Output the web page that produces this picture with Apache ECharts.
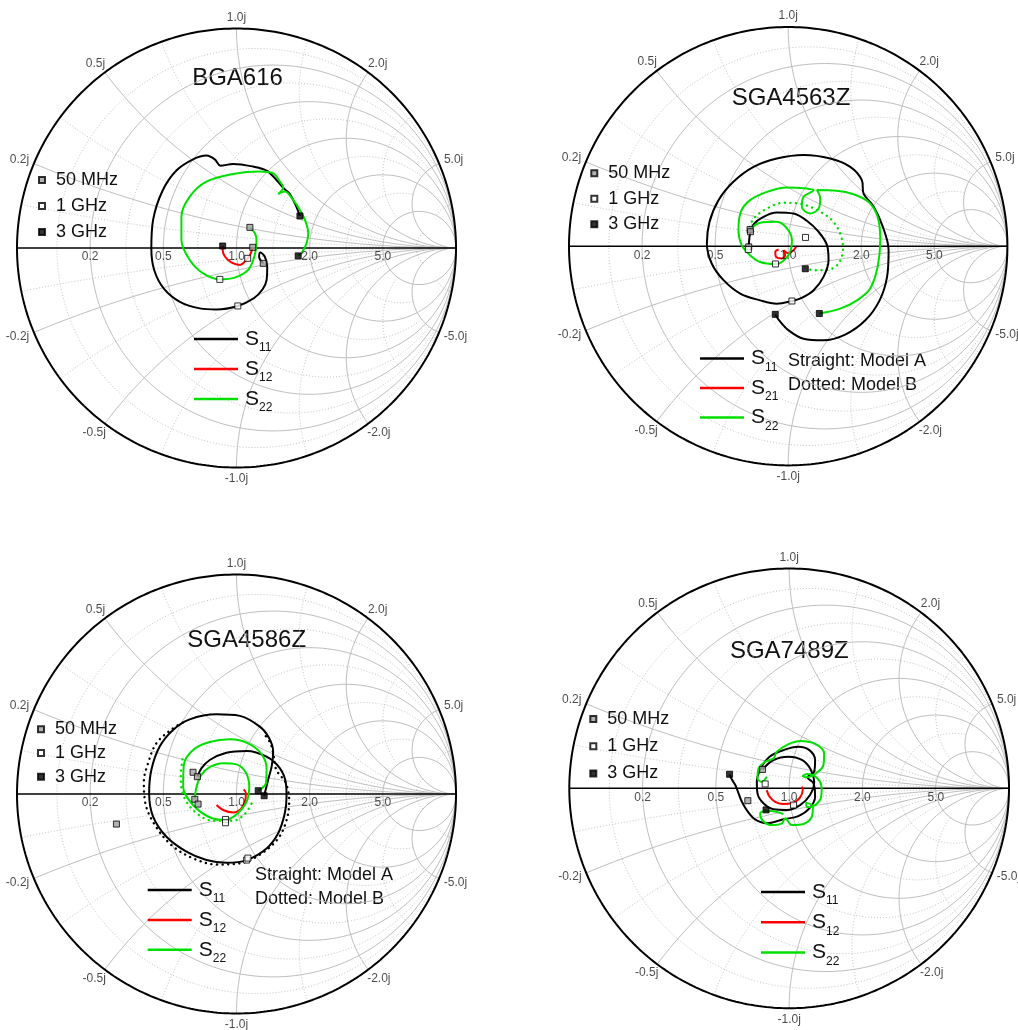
<!DOCTYPE html>
<html><head><meta charset="utf-8">
<script src="https://cdn.jsdelivr.net/npm/echarts/dist/echarts.min.js"></script>
<style>html,body{margin:0;padding:0;background:#fff}#c{width:1018px;height:1030px}</style>
</head><body><div id="c"></div>
<script>
const FONT = '"Liberation Sans", Arial, Helvetica, sans-serif';
const gridMajor = [0.2, 0.5, 1.0, 2.0, 5.0];
const gridMinor = [0.1, 0.33, 0.7, 1.4, 3.0, 10.0];
const minorClip = 5.0;
const rTickLabels = ['0.2', '0.5', '1.0', '2.0', '5.0'];
const xTickLabelsPos = ['0.2j', '0.5j', '1.0j', '2.0j', '5.0j'];
const xTickLabelsNeg = ['-0.2j', '-0.5j', '-1.0j', '-2.0j', '-5.0j'];
const freqLabels = ['50 MHz', '1 GHz', '3 GHz'];
const titles = ['BGA616', 'SGA4563Z', 'SGA4586Z', 'SGA7489Z'];
const modelNote = 'Straight: Model A\nDotted: Model B';

// ---- Panel 1: BGA616 (reflection coefficient, [Re, Im]) ----
const p1_S11 = [[0.122,-0.070],[0.103,-0.040],[0.109,-0.021],[0.129,-0.040],[0.140,-0.085],[0.137,-0.146],[0.119,-0.188],[0.079,-0.229],[0.006,-0.264],[-0.091,-0.280],[-0.167,-0.275],[-0.258,-0.245],[-0.331,-0.185],[-0.375,-0.100],[-0.388,-0.002],[-0.380,0.128],[-0.337,0.261],[-0.274,0.353],[-0.198,0.404],[-0.137,0.421],[-0.099,0.404],[-0.073,0.375],[-0.015,0.383],[0.076,0.371],[0.137,0.353],[0.182,0.310],[0.216,0.271],[0.243,0.246],[0.267,0.201],[0.289,0.146]];
const p1_S12 = [[0.074,0.003],[0.062,-0.032],[0.051,-0.047],[0.016,-0.077],[-0.022,-0.067],[-0.052,-0.040],[-0.063,-0.009],[-0.063,0.009]];
const p1_S22 = [[0.061,0.094],[0.084,0.067],[0.091,0.036],[0.088,-0.009],[0.076,-0.055],[0.053,-0.100],[-0.008,-0.135],[-0.076,-0.143],[-0.152,-0.116],[-0.213,-0.055],[-0.251,0.036],[-0.251,0.143],[-0.213,0.234],[-0.137,0.302],[-0.015,0.337],[0.106,0.348],[0.167,0.340],[0.198,0.302],[0.213,0.277],[0.190,0.246],[0.220,0.257],[0.258,0.219],[0.289,0.173],[0.312,0.128],[0.327,0.067],[0.319,0.021],[0.296,-0.024],[0.281,-0.036]];
const p1_m50 = [[0.122,-0.070],[0.074,0.003],[0.061,0.094]];
const p1_m1G = [[0.006,-0.264],[0.051,-0.047],[-0.076,-0.143]];
const p1_m3G = [[0.289,0.146],[-0.063,0.009],[0.281,-0.036]];

// ---- Panel 2: SGA4563Z ----
const p2_S11 = [[-0.180,-0.003],[-0.174,0.058],[-0.158,0.100],[-0.113,0.134],[-0.052,0.154],[0.024,0.149],[0.085,0.116],[0.139,0.065],[0.177,0.005],[0.184,-0.064],[0.161,-0.140],[0.116,-0.201],[0.062,-0.236],[0.017,-0.250],[-0.052,-0.262],[-0.128,-0.247],[-0.219,-0.216],[-0.295,-0.155],[-0.349,-0.079],[-0.371,0.012],[-0.359,0.111],[-0.318,0.210],[-0.250,0.294],[-0.158,0.362],[-0.052,0.400],[0.070,0.416],[0.192,0.400],[0.283,0.362],[0.336,0.301],[0.344,0.240],[0.390,0.180],[0.432,0.088],[0.458,-0.018],[0.451,-0.140],[0.417,-0.247],[0.352,-0.338],[0.260,-0.403],[0.161,-0.429],[0.070,-0.422],[0.002,-0.384],[-0.044,-0.335],[-0.059,-0.311]];
const p2_S21 = [[-0.044,-0.015],[-0.059,-0.026],[-0.055,-0.049],[-0.029,-0.056],[-0.014,-0.041],[-0.021,-0.018],[0.002,-0.033],[0.021,-0.021],[0.037,-0.003]];
const p2_S22 = [[-0.174,0.076],[-0.128,0.107],[-0.052,0.111],[-0.006,0.081],[0.017,0.027],[0.006,-0.033],[-0.029,-0.072],[-0.058,-0.081],[-0.128,-0.072],[-0.174,-0.041],[-0.212,0.005],[-0.227,0.073],[-0.216,0.157],[-0.174,0.210],[-0.097,0.248],[-0.006,0.268],[0.085,0.263],[0.116,0.256],[0.070,0.225],[0.062,0.180],[0.100,0.149],[0.139,0.172],[0.146,0.218],[0.131,0.256],[0.222,0.253],[0.298,0.237],[0.367,0.202],[0.408,0.134],[0.420,0.027],[0.408,-0.094],[0.374,-0.193],[0.314,-0.247],[0.237,-0.285],[0.142,-0.307]];
const p2_S22B = [[-0.174,0.088],[-0.158,0.126],[-0.097,0.172],[-0.021,0.198],[0.062,0.192],[0.139,0.161],[0.199,0.119],[0.237,0.058],[0.250,-0.011],[0.230,-0.079],[0.184,-0.107],[0.123,-0.110],[0.078,-0.103]];
const p2_m50 = [[-0.174,0.076],[-0.180,-0.003],[-0.172,0.066]];
const p2_m1G = [[0.017,-0.250],[-0.058,-0.081],[0.079,0.040],[-0.182,-0.015]];
const p2_m3G = [[-0.059,-0.311],[0.142,-0.307],[0.078,-0.103]];

// ---- Panel 3: SGA4586Z ----
const p3_S11 = [[-0.178,0.079],[-0.160,0.117],[-0.122,0.155],[-0.046,0.188],[0.046,0.196],[0.137,0.170],[0.198,0.117],[0.225,0.049],[0.228,-0.012],[0.220,-0.088],[0.190,-0.179],[0.137,-0.248],[0.046,-0.301],[-0.046,-0.313],[-0.137,-0.301],[-0.228,-0.263],[-0.319,-0.195],[-0.380,-0.103],[-0.398,0.003],[-0.388,0.109],[-0.350,0.216],[-0.289,0.292],[-0.213,0.340],[-0.091,0.363],[0.015,0.356],[0.106,0.307],[0.149,0.254],[0.167,0.193],[0.160,0.125],[0.144,0.064],[0.126,-0.008]];
const p3_S11B = [[-0.246,0.325],[-0.294,0.296],[-0.365,0.231],[-0.403,0.140],[-0.422,0.056],[-0.415,-0.043],[-0.372,-0.141],[-0.296,-0.233],[-0.198,-0.293],[-0.091,-0.321],[0.015,-0.316],[0.114,-0.271],[0.190,-0.202],[0.228,-0.119],[0.240,-0.035],[0.225,0.049],[0.182,0.109],[0.170,0.170],[0.155,0.231],[0.122,0.277]];
const p3_S12 = [[-0.091,-0.050],[-0.061,-0.073],[-0.015,-0.084],[0.018,-0.070],[0.038,-0.035],[0.043,0.003],[0.033,0.021]];
const p3_S22 = [[-0.190,-0.024],[-0.182,0.033],[-0.160,0.087],[-0.122,0.122],[-0.061,0.140],[0.000,0.135],[0.043,0.097],[0.058,0.033],[0.046,-0.035],[0.008,-0.085],[-0.050,-0.119],[-0.122,-0.106],[-0.198,-0.050],[-0.243,0.033],[-0.240,0.132],[-0.198,0.201],[-0.122,0.237],[-0.030,0.249],[0.053,0.231],[0.114,0.182],[0.137,0.117],[0.134,0.049],[0.099,0.015]];
const p3_S22B = [[-0.246,0.158],[-0.254,0.079],[-0.240,-0.012],[-0.185,-0.085],[-0.106,-0.122],[-0.015,-0.122],[0.040,-0.088],[0.075,-0.030]];
const p3_m50 = [[-0.198,0.099],[-0.178,0.079],[-0.190,-0.024],[-0.175,-0.046],[-0.547,-0.137]];
const p3_m1G = [[0.046,-0.301],[-0.050,-0.116],[-0.050,-0.131],[0.052,-0.292]];
const p3_m3G = [[0.099,0.015],[0.126,-0.008]];

// ---- Panel 4: SGA7489Z ----
const p4_S11 = [[-0.121,0.086],[-0.071,0.129],[-0.003,0.144],[0.058,0.129],[0.098,0.086],[0.114,0.030],[0.095,-0.030],[0.050,-0.076],[-0.011,-0.098],[-0.071,-0.095],[-0.117,-0.068],[-0.144,-0.023],[-0.147,0.030],[-0.129,0.091],[-0.089,0.144],[-0.026,0.174],[0.042,0.189],[0.092,0.174],[0.118,0.129],[0.114,0.076],[0.083,0.050],[0.111,0.023],[0.118,-0.038],[0.092,-0.091],[0.042,-0.126],[-0.026,-0.141],[-0.102,-0.159],[-0.155,-0.141],[-0.188,-0.106],[-0.215,-0.061],[-0.230,-0.023],[-0.245,0.015],[-0.261,0.041],[-0.271,0.064]];
const p4_S12 = [[-0.102,-0.008],[-0.089,-0.038],[-0.064,-0.061],[-0.026,-0.071],[0.012,-0.068],[0.047,-0.045],[0.062,-0.008],[0.058,0.008]];
const p4_S22 = [[-0.102,0.053],[-0.124,0.030],[-0.144,0.045],[-0.139,0.091],[-0.109,0.121],[-0.071,0.136],[-0.056,0.167],[-0.011,0.197],[0.050,0.215],[0.118,0.202],[0.159,0.159],[0.156,0.106],[0.126,0.071],[0.080,0.050],[0.062,0.056],[0.083,0.065],[0.129,0.045],[0.148,0.000],[0.144,-0.045],[0.118,-0.076],[0.083,-0.086],[0.077,-0.065],[0.108,-0.083],[0.103,-0.129],[0.065,-0.162],[0.012,-0.167],[-0.018,-0.136],[-0.033,-0.159],[-0.079,-0.167],[-0.120,-0.147],[-0.132,-0.114],[-0.102,-0.102],[-0.059,-0.106],[-0.026,-0.117]];
const p4_m50 = [[-0.121,0.086],[-0.188,-0.056]];
const p4_m1G = [[-0.109,0.020],[0.020,-0.076]];
const p4_m3G = [[-0.271,0.064],[-0.105,-0.098]];

// ---- layout (pixel placement of each panel and its legends) ----
const layout = [
  {left:17, top:28.5, size:439, tx:237.5, ty:78, fl:{left:38, top:171, gap:8}, ll:{left:194, top:328.5, gap:4.5}, names:['S11','S12','S22'], note:null,
   curves:[['S11',p1_S11,'#000',false],['S12',p1_S12,'#ff0000',false],['S22',p1_S22,'#00e000',false]], marks:[p1_m50,p1_m1G,p1_m3G]},
  {left:569, top:27, size:438.4, tx:791, ty:98, fl:{left:590.3, top:164.3, gap:7.5}, ll:{left:700, top:348.1, gap:4}, names:['S11','S21','S22'], note:[788,373],
   curves:[['S22 B',p2_S22B,'#00e000',true],['S11',p2_S11,'#000',false],['S21',p2_S21,'#ff0000',false],['S22',p2_S22,'#00e000',false]], marks:[p2_m50,p2_m1G,p2_m3G]},
  {left:17, top:574.5, size:439, tx:246.7, ty:640, fl:{left:37, top:720.3, gap:5.7}, ll:{left:147.7, top:879.5, gap:4.4}, names:['S11','S12','S22'], note:[255,887],
   curves:[['S11 B',p3_S11B,'#000',true],['S22 B',p3_S22B,'#00e000',true],['S11',p3_S11,'#000',false],['S12',p3_S12,'#ff0000',false],['S22',p3_S22,'#00e000',false]], marks:[p3_m50,p3_m1G,p3_m3G]},
  {left:569.3, top:568.5, size:439.7, tx:789.3, ty:651.7, fl:{left:589.3, top:710, gap:9.2}, ll:{left:761, top:881.5, gap:4.7}, names:['S11','S12','S22'], note:null,
   curves:[['S11',p4_S11,'#000',false],['S12',p4_S12,'#ff0000',false],['S22',p4_S22,'#00e000',false]], marks:[p4_m50,p4_m1G,p4_m3G]}
];

function gamma(r, x) { const d = (r + 1) * (r + 1) + x * x; return [(r * r + x * x - 1) / d, 2 * x / d]; }
// constant-resistance circle, limited to |x| <= xMax (Infinity = full circle)
function rCircle(r, xMax) {
  const pts = [], N = 360;
  if (!isFinite(xMax)) { const c = r / (1 + r), rad = 1 / (1 + r); for (let i = 0; i <= N; i++) { const t = 2 * Math.PI * i / N; pts.push([c + rad * Math.cos(t), rad * Math.sin(t)]); } return pts; }
  const vm = Math.atan(xMax);
  for (let i = 0; i <= N; i++) { const v = -vm + 2 * vm * i / N; pts.push(gamma(r, Math.tan(v))); }
  return pts;
}
// constant-reactance arc, limited to r <= rMax
function xArc(x, rMax) {
  const pts = [], N = 400, um = isFinite(rMax) ? Math.atan(rMax) : Math.PI / 2;
  for (let i = 0; i <= N; i++) { const u = um * i / N; const r = (i === N && !isFinite(rMax)) ? 1e9 : Math.tan(u); pts.push(gamma(r, x)); }
  return pts;
}
function joinSegs(segs) { const out = []; segs.forEach((s, i) => { if (i) out.push(['-', '-']); s.forEach(p => out.push(p)); }); return out; }
function gridData(vals, lim) { const segs = []; vals.forEach(v => { segs.push(rCircle(v, lim)); segs.push(xArc(v, lim)); segs.push(xArc(-v, lim)); }); return joinSegs(segs); }
function textW(s) { let w = 0; for (const ch of s) w += ch === '.' ? 3.3 : ch === 'j' ? 2.7 : ch === '-' ? 4 : 6.7; return w; }
function tickData() {
  const items = [];
  gridMajor.forEach((r, i) => items.push({ value: [(r - 1) / (r + 1), 0], label: { formatter: rTickLabels[i], offset: [0, 9] } }));
  gridMajor.forEach((x, i) => {
    [[x, xTickLabelsPos[i]], [-x, xTickLabelsNeg[i]]].forEach(([xv, txt]) => {
      const g = gamma(0, xv); const th = Math.atan2(g[1], g[0]); const w = textW(txt);
      items.push({ value: g, label: { formatter: txt, offset: [Math.cos(th) * (w / 2 + 6), -Math.sin(th) * 11] } });
    });
  });
  return items;
}

const majorData = gridData(gridMajor, Infinity);
const minorData = gridData(gridMinor, minorClip);
const outerData = rCircle(0, Infinity);
const axisData = [[-1, 0], [1, 0]];
const ticks = tickData();

const grids = [], xAxes = [], yAxes = [], series = [], legends = [], graphics = [];
const markStyles = [
  { color: '#a0a0a0', borderColor: '#000', borderWidth: 1 },
  { color: '#ffffff', borderColor: '#000', borderWidth: 1 },
  { color: '#000000', borderColor: '#000', borderWidth: 1 }
];
layout.forEach((L, i) => {
  grids.push({ left: L.left, top: L.top, width: L.size, height: L.size });
  xAxes.push({ type: 'value', gridIndex: i, min: -1, max: 1, show: false });
  yAxes.push({ type: 'value', gridIndex: i, min: -1, max: 1, show: false });
  const ax = { xAxisIndex: i, yAxisIndex: i };
  series.push(Object.assign({ type: 'line', name: 'minor' + i, data: minorData, symbol: 'none', silent: true, clip: false, z: 1,
    lineStyle: { color: '#c4c4c4', width: 1, type: [1, 2] } }, ax));
  series.push(Object.assign({ type: 'line', name: 'major' + i, data: majorData, symbol: 'none', silent: true, clip: false, z: 1,
    lineStyle: { color: '#bdbdbd', width: 1 } }, ax));
  series.push(Object.assign({ type: 'line', name: 'outer' + i, data: outerData, symbol: 'none', silent: true, clip: false, z: 2,
    lineStyle: { color: '#000', width: 2 } }, ax));
  series.push(Object.assign({ type: 'line', name: 'axis' + i, data: axisData, symbol: 'none', silent: true, clip: false, z: 2,
    lineStyle: { color: '#000', width: 1.5 } }, ax));
  series.push(Object.assign({ type: 'scatter', name: 'ticks' + i, data: ticks, symbolSize: 1, silent: true, z: 6,
    itemStyle: { color: 'rgba(0,0,0,0)' },
    label: { show: true, position: 'inside', fontSize: 12, color: '#1a1a1a', fontFamily: FONT } }, ax));
  L.curves.forEach(([nm, d, col, dotted]) => {
    series.push(Object.assign({ type: 'line', name: nm, data: d, symbol: 'none', smooth: 0.35, silent: true, clip: false, z: dotted ? 3 : 4,
      itemStyle: { color: col },
      lineStyle: dotted ? { color: col, width: 2.4, type: [0.1, 5.5], cap: 'round' } : { color: col, width: 2 } }, ax));
  });
  L.marks.forEach((d, k) => {
    series.push(Object.assign({ type: 'scatter', name: freqLabels[k], data: d, symbol: 'rect', symbolSize: 6, silent: true, z: 5,
      itemStyle: markStyles[k] }, ax));
  });
  legends.push({ orient: 'vertical', left: L.fl.left, top: L.fl.top, itemWidth: 6, itemHeight: 6, itemGap: L.fl.gap, padding: 0,
    selectedMode: false, data: freqLabels, icon: 'rect',
    textStyle: { fontSize: 18, fontFamily: FONT, color: '#111', padding: [0, 0, 0, 6] } });
  legends.push({ orient: 'vertical', left: L.ll.left, top: L.ll.top, itemWidth: 44, itemHeight: 2.5, itemGap: L.ll.gap, padding: 0,
    selectedMode: false, data: L.names, icon: 'rect',
    formatter: n => '{s|S}{b|' + n.slice(1) + '}',
    textStyle: { fontFamily: FONT, color: '#111', rich: {
      s: { fontSize: 21, fontFamily: FONT, color: '#111', padding: [0, 0, 0, 2] },
      b: { fontSize: 12, fontFamily: FONT, color: '#111', padding: [18, 0, 0, 0] } } } });
  graphics.push({ type: 'text', x: L.tx, y: L.ty, silent: true,
    style: { text: titles[i], fill: '#111', font: '24px ' + FONT, align: 'center', verticalAlign: 'middle' } });
  if (L.note) graphics.push({ type: 'text', x: L.note[0], y: L.note[1], silent: true,
    style: { text: modelNote, fill: '#111', font: '18px ' + FONT, align: 'left', verticalAlign: 'middle', lineHeight: 24 } });
});

const chart = echarts.init(document.getElementById('c'), null, { renderer: 'canvas' });
chart.setOption({
  animation: false,
  backgroundColor: '#ffffff',
  grid: grids, xAxis: xAxes, yAxis: yAxes,
  legend: legends,
  graphic: graphics,
  series: series
});
</script></body></html>
